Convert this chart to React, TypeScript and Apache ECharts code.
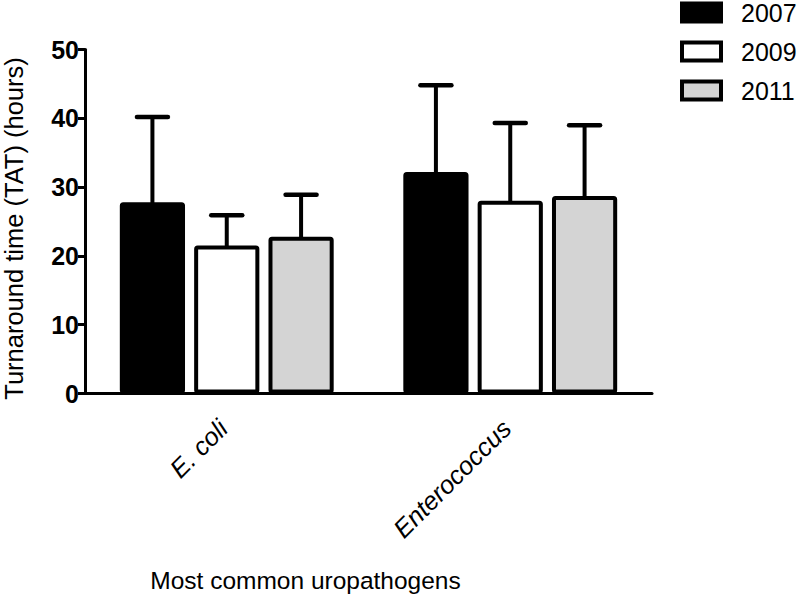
import React, { useEffect, useRef } from "react";
import * as echarts from "echarts";

const categories = ["E. coli", "Enterococcus"];
const years = ["2007", "2009", "2011"];
const means2007 = [27.8, 32.2];
const means2009 = [21.5, 28.0];
const means2011 = [22.8, 28.7];
const upper2007 = [40.2, 44.8];
const upper2009 = [25.9, 39.3];
const upper2011 = [28.9, 39.0];
const yTicks = [0, 10, 20, 30, 40, 50];

const fills = ["#000000", "#ffffff", "#d4d4d4"];
const BAR_FRAC = 0.23;
const GAP_FRAC = 0.14;

export default function App() {
  const ref = useRef<HTMLDivElement>(null);
  useEffect(() => {
    if (!ref.current) return;
    const chart = echarts.init(ref.current, null, { renderer: "svg" });
    const means = [means2007, means2009, means2011];
    const uppers = [upper2007, upper2009, upper2011];
    const font = "Liberation Sans";

    const barSeries = years.map((y, k) => ({
      name: y,
      type: "bar",
      data: means[k],
      barWidth: BAR_FRAC * 100 + "%",
      barGap: GAP_FRAC * 100 + "%",
      z: 3,
      itemStyle: { color: fills[k], borderColor: "#000", borderWidth: 4, borderRadius: 1.5 },
    }));

    const errSeries = years.map((y, k) => ({
      name: "err" + y,
      type: "custom",
      z: 2,
      data: categories.map((_, i) => [i, uppers[k][i], means[k][i]]),
      encode: { x: 0, y: 1 },
      renderItem: (params: any, api: any) => {
        const cat = api.value(0);
        const up = api.value(1);
        const mean = api.value(2);
        const band = api.size([1, 0])[0];
        const w = band * BAR_FRAC;
        const off = (k - 1) * (w * (1 + GAP_FRAC));
        const p1 = api.coord([cat, mean]);
        const p2 = api.coord([cat, up]);
        const x = p1[0] + off;
        return {
          type: "group",
          children: [
            { type: "line", shape: { x1: x, y1: p1[1] + 3, x2: x, y2: p2[1] }, style: { stroke: "#000", lineWidth: 4 } },
            {
              type: "line",
              shape: { x1: x - 15.5, y1: p2[1], x2: x + 15.5, y2: p2[1] },
              style: { stroke: "#000", lineWidth: 4.5, lineCap: "round" },
            },
          ],
        };
      },
    }));

    chart.setOption({
      animation: false,
      backgroundColor: "#ffffff",
      textStyle: { fontFamily: font, color: "#000" },
      grid: { left: 85, right: 148, top: 49.5, bottom: 204.5, containLabel: false, outerBoundsMode: "none" },
      legend: {
        data: years,
        orient: "vertical",
        left: 680,
        top: 0,
        padding: 0,
        itemWidth: 39,
        itemHeight: 18,
        itemGap: 14,
        icon: "rect",
        itemStyle: { borderColor: "#000", borderWidth: 4 },
        textStyle: { fontFamily: font, fontSize: 25, color: "#000", padding: [0, 0, 0, 15] },
      },
      xAxis: {
        type: "category",
        data: categories,
        name: "Most common uropathogens",
        nameLocation: "middle",
        nameGap: 174,
        nameTextStyle: { fontFamily: font, fontSize: 24.5, color: "#000", padding: [0, 126, 0, 0] },
        axisLine: { lineStyle: { color: "#000", width: 3 } },
        axisTick: { alignWithLabel: true, length: 10, lineStyle: { color: "#000", width: 3 } },
        axisLabel: {
          rotate: 45,
          margin: 27,
          fontStyle: "italic",
          fontSize: 25.5,
          color: "#000",
          fontFamily: font,
          padding: [0, 5, 0, 0],
        },
      },
      yAxis: {
        type: "value",
        min: yTicks[0],
        max: yTicks[yTicks.length - 1],
        interval: 10,
        name: "Turnaround time (TAT) (hours)",
        nameLocation: "middle",
        nameGap: 58,
        nameTextStyle: { fontFamily: font, fontSize: 25.5, color: "#000", padding: [0, 14, 0, 0] },
        axisLine: { show: true, lineStyle: { color: "#000", width: 3 } },
        axisTick: { show: true, length: 7, lineStyle: { color: "#000", width: 3 } },
        axisLabel: { fontWeight: "bold", fontSize: 25, color: "#000", margin: 6, fontFamily: font },
        splitLine: { show: false },
      },
      series: [...errSeries, ...barSeries],
    });
    return () => chart.dispose();
  }, []);
  return <div ref={ref} style={{ position: "fixed", left: 0, top: 0, width: 800, height: 598 }} />;
}
